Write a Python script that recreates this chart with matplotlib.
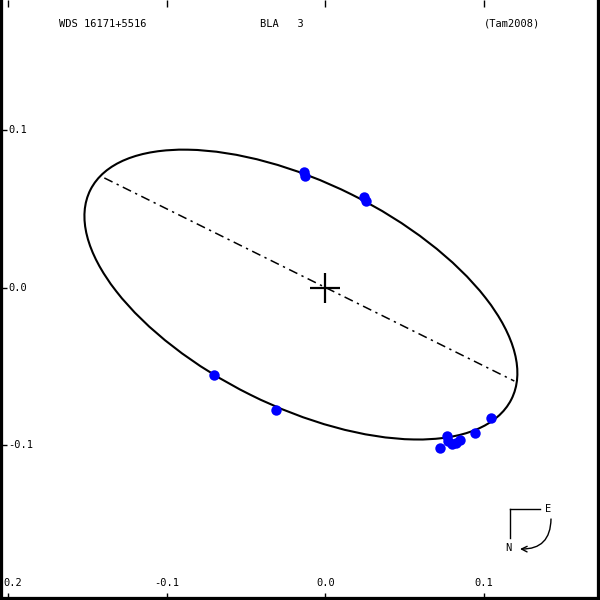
import matplotlib
matplotlib.use("Agg")
import matplotlib.pyplot as plt
from matplotlib.patches import Ellipse

# header texts
star_id = "WDS 16171+5516"
disc_name = "BLA   3"
orbit_ref = "(Tam2008)"

# observed relative positions (arcsec)
obs_x = [-0.0136, -0.0129, 0.0246, 0.0258, -0.0700, -0.0309, 0.0769,
         0.0775, 0.0725, 0.0800, 0.0826, 0.0851, 0.0945, 0.1046]
obs_y = [0.0732, 0.0712, 0.0576, 0.0550, -0.0557, -0.0779, -0.0945,
         -0.0976, -0.1021, -0.0995, -0.0989, -0.0969, -0.0926, -0.0830]

# apparent orbit (arcsec / degrees)
orbit_center = (-0.0154, -0.0045)
orbit_width = 0.2969
orbit_height = 0.1425
orbit_angle = -26.7

# line of nodes end points
node_x = [-0.1393, 0.1191]
node_y = [0.0697, -0.0595]

xticks = [-0.2, -0.1, 0.0, 0.1]
yticks = [0.1, 0.0, -0.1]

mono = "DejaVu Sans Mono"
fs = 7.5

fig = plt.figure(figsize=(6, 6), dpi=100)
ax = fig.add_axes([0, 0, 1, 1])
ax.set_xlim(-0.20504, 0.1731)
ax.set_ylim(-0.1988, 0.1829)

# orbit ellipse
ax.add_patch(Ellipse(orbit_center, orbit_width, orbit_height, angle=orbit_angle,
                     fill=False, edgecolor='black', linewidth=1.5))

# line of nodes
ax.plot(node_x, node_y, color='black', linewidth=1.1, dashes=[6, 3, 1.5, 3])

# primary
ax.plot([0], [0], marker='+', markersize=22, markeredgewidth=1.6, color='black')

# measures
ax.plot(obs_x, obs_y, 'o', color='#0000ff', markersize=7.5, markeredgewidth=0)

# header
ax.text(59 / 600, 1 - 24 / 600, star_id, transform=ax.transAxes, family=mono,
        fontsize=fs, va='center', ha='left')
ax.text(260 / 600, 1 - 24 / 600, disc_name, transform=ax.transAxes, family=mono,
        fontsize=fs, va='center', ha='left')
ax.text(484 / 600, 1 - 24 / 600, orbit_ref, transform=ax.transAxes, family=mono,
        fontsize=fs, va='center', ha='left')

# ticks drawn inside, labels placed by hand inside the frame
ax.set_xticks(xticks)
ax.set_yticks(yticks)
ax.tick_params(axis='x', direction='in', top=True, bottom=True, length=5, width=1,
               labelbottom=False)
ax.tick_params(axis='y', direction='in', left=True, right=False, length=5, width=1,
               labelleft=False)
for i, xv in enumerate(xticks):
    lab = f"{xv:.1f}"
    if i == 0:
        # leftmost label runs off the frame: only "0.2" shows
        ax.text(3 / 600, 1 - 583 / 600, lab.lstrip('-'), transform=ax.transAxes,
                family=mono, fontsize=fs, ha='left', va='center')
    else:
        ax.text(xv, 1 - 583 / 600, lab, transform=ax.get_xaxis_transform(),
                family=mono, fontsize=fs, ha='center', va='center')
for yv in yticks:
    ax.text(8 / 600, yv, f"{yv:.1f}", transform=ax.get_yaxis_transform(),
            family=mono, fontsize=fs, ha='left', va='center')

for side in ['left', 'right', 'bottom']:
    ax.spines[side].set_linewidth(4.5)
ax.spines['top'].set_visible(False)

# compass
ax.plot([510 / 600, 540 / 600], [1 - 509 / 600, 1 - 509 / 600], color='black',
        linewidth=1, transform=ax.transAxes)
ax.plot([510 / 600, 510 / 600], [1 - 509 / 600, 1 - 538 / 600], color='black',
        linewidth=1, transform=ax.transAxes)
ax.text(548 / 600, 1 - 509 / 600, "E", transform=ax.transAxes, family=mono,
        fontsize=fs, ha='center', va='center')
ax.text(508 / 600, 1 - 548 / 600, "N", transform=ax.transAxes, family=mono,
        fontsize=fs, ha='center', va='center')
ax.annotate("", xy=(520 / 600, 1 - 549 / 600), xytext=(551 / 600, 1 - 519 / 600),
            xycoords='axes fraction', textcoords='axes fraction',
            arrowprops=dict(arrowstyle='->', color='black', linewidth=1,
                            connectionstyle='arc3,rad=-0.5',
                            shrinkA=0, shrinkB=0))

fig.savefig("out.png", dpi=100)
